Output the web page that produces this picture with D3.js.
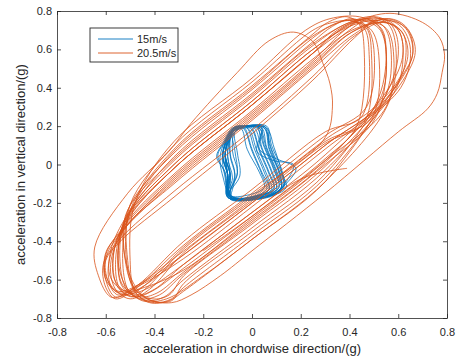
<!DOCTYPE html>
<html>
<head>
<meta charset="utf-8">
<script src="https://cdnjs.cloudflare.com/ajax/libs/d3/7.8.5/d3.min.js"></script>
<style>
  body { margin: 0; background: #fff; }
  text { font-family: "Liberation Sans", Arial, sans-serif; fill: #262626; }
</style>
</head>
<body>
<div id="chart"></div>
<script>
// series
const seriesNames = ["15m/s", "20.5m/s"];
const seriesColors = ["#0072BD", "#D95319"];
const xTicks = [-0.8, -0.6, -0.4, -0.2, 0, 0.2, 0.4, 0.6, 0.8];
const yTicks = [-0.8, -0.6, -0.4, -0.2, 0, 0.2, 0.4, 0.6, 0.8];
const xLabel = "acceleration in chordwise direction/(g)";
const yLabel = "acceleration in vertical direction/(g)";

// 15 m/s trajectory, read loop by loop as [chordwise, vertical]
const loops15 = [
  [[-0.09,-0.17],[-0.07,-0.06],[-0.09,0.05],[-0.08,0.17],[-0.03,0.2],[0.05,0.19],[0.08,0.08],[0.12,-0.04],[0.14,-0.12],[0.07,-0.165]],
  [[-0.1,-0.16],[-0.09,-0.04],[-0.1,0.07],[-0.07,0.18],[-0.03,0.2],[0.0,0.19],[0.03,0.08],[0.07,-0.04],[0.09,-0.12],[0.02,-0.17]],
  [[-0.08,-0.18],[-0.12,-0.06],[-0.13,0.05],[-0.08,0.18],[-0.02,0.2],[0.06,0.2],[0.08,0.1],[0.12,-0.02],[0.13,-0.11],[0.08,-0.16]],
  [[-0.09,-0.17],[-0.1,-0.05],[-0.12,0.04],[-0.09,0.16],[-0.05,0.2],[-0.03,0.18],[0.0,0.07],[0.04,-0.05],[0.06,-0.13],[-0.01,-0.17]],
  [[-0.1,-0.17],[-0.09,-0.05],[-0.11,0.06],[-0.07,0.17],[-0.02,0.2],[0.04,0.19],[0.03,0.08],[0.1,0.03],[0.18,-0.02],[0.14,-0.1],[0.08,-0.16]],
  [[-0.09,-0.16],[-0.06,-0.05],[-0.07,0.07],[-0.08,0.18],[-0.03,0.2],[0.02,0.19],[0.05,0.09],[0.09,-0.03],[0.11,-0.12],[0.04,-0.17]],
  [[-0.09,-0.17],[-0.11,-0.04],[-0.145,0.04],[-0.12,0.11],[-0.08,0.19],[-0.04,0.2],[-0.01,0.18],[0.02,0.07],[0.06,-0.05],[0.08,-0.13],[0.01,-0.17]],
  [[-0.08,-0.17],[-0.09,-0.05],[-0.11,0.06],[-0.07,0.17],[-0.01,0.2],[0.06,0.19],[0.07,0.09],[0.11,-0.03],[0.12,-0.12],[0.06,-0.17]],
  [[-0.1,-0.17],[-0.08,-0.07],[-0.1,0.04],[-0.08,0.17],[-0.03,0.19],[0.03,0.19],[0.06,0.08],[0.1,-0.04],[0.12,-0.13],[0.05,-0.17]],
  [[-0.09,-0.18],[-0.09,-0.05],[-0.11,0.06],[-0.08,0.18],[-0.06,0.2],[-0.04,0.18],[-0.02,0.08],[0.03,-0.04],[0.05,-0.12],[-0.02,-0.16]],
  [[-0.09,-0.16],[-0.1,-0.05],[-0.12,0.05],[-0.08,0.17],[-0.02,0.2],[0.05,0.2],[0.07,0.11],[0.1,0.0],[0.13,-0.11],[0.07,-0.16]],
  [[-0.1,-0.17],[-0.05,-0.06],[-0.06,0.06],[-0.07,0.17],[-0.03,0.2],[0.01,0.19],[0.04,0.08],[0.08,-0.04],[0.1,-0.13],[0.03,-0.17]],
  [[-0.09,-0.17],[-0.1,-0.05],[-0.11,0.06],[-0.08,0.18],[-0.02,0.2],[0.04,0.19],[0.02,0.07],[0.09,0.02],[0.17,0.0],[0.15,-0.07],[0.09,-0.15]],
  [[-0.08,-0.17],[-0.1,-0.05],[-0.11,0.05],[-0.08,0.17],[-0.05,0.2],[-0.02,0.19],[0.01,0.08],[0.05,-0.04],[0.07,-0.13],[0.0,-0.17]],
  [[-0.09,-0.18],[-0.11,-0.07],[-0.12,0.06],[-0.07,0.18],[-0.01,0.2],[0.06,0.19],[0.09,0.09],[0.12,-0.03],[0.13,-0.12],[0.07,-0.17]],
  [[-0.1,-0.17],[-0.1,-0.05],[-0.12,0.06],[-0.08,0.18],[-0.03,0.2],[0.02,0.2],[0.04,0.09],[0.08,-0.03],[0.1,-0.12],[0.03,-0.16]],
  [[-0.09,-0.17],[-0.11,-0.05],[-0.14,0.05],[-0.11,0.12],[-0.08,0.19],[-0.03,0.2],[0.0,0.18],[0.03,0.07],[0.07,-0.05],[0.09,-0.13],[0.02,-0.17]],
  [[-0.09,-0.16],[-0.06,-0.04],[-0.08,0.07],[-0.07,0.17],[-0.02,0.2],[0.05,0.19],[0.07,0.08],[0.11,-0.04],[0.12,-0.12],[0.06,-0.17]],
  [[-0.09,-0.17],[-0.09,-0.05],[-0.11,0.05],[-0.08,0.18],[-0.03,0.2],[0.03,0.19],[0.05,0.1],[0.09,-0.02],[0.11,-0.12],[0.04,-0.16]],
  [[-0.1,-0.17],[-0.1,-0.06],[-0.12,0.05],[-0.09,0.17],[-0.05,0.2],[-0.03,0.19],[0.0,0.08],[0.04,-0.04],[0.07,-0.13],[0.0,-0.17]],
  [[-0.09,-0.17],[-0.07,-0.05],[-0.09,0.06],[-0.08,0.18],[-0.02,0.2],[0.04,0.19],[0.06,0.09],[0.1,-0.03],[0.12,-0.12],[0.05,-0.17]],
  [[-0.09,-0.17],[-0.1,-0.05],[-0.11,0.05]]
];

// 20.5 m/s trajectory
const loops205 = [
  [[0.39,-0.02],[0.21,-0.07],[0.00,-0.25],[-0.28,-0.52],[-0.42,-0.64],[-0.50,-0.67],[-0.56,-0.61],[-0.57,-0.48],[-0.52,-0.30],[-0.32,-0.02],[0.00,0.31],[0.25,0.58],[0.37,0.71],[0.44,0.75],[0.52,0.71],[0.55,0.59],[0.52,0.33]],
  [[0.30,0.13],[0.00,-0.17],[-0.28,-0.44],[-0.43,-0.64],[-0.49,-0.69],[-0.55,-0.64],[-0.57,-0.51],[-0.54,-0.36],[-0.32,-0.10],[0.00,0.23],[0.25,0.50],[0.42,0.68],[0.55,0.76],[0.63,0.71],[0.66,0.59],[0.62,0.46]],
  [[0.30,-0.01],[0.00,-0.31],[-0.28,-0.58],[-0.34,-0.68],[-0.41,-0.70],[-0.48,-0.65],[-0.52,-0.50],[-0.51,-0.24],[-0.32,0.06],[0.00,0.39],[0.25,0.66],[0.32,0.72],[0.40,0.75],[0.46,0.71],[0.48,0.59],[0.45,0.25]],
  [[0.30,0.17],[0.00,-0.13],[-0.28,-0.40],[-0.47,-0.63],[-0.56,-0.69],[-0.60,-0.60],[-0.60,-0.50],[-0.54,-0.40],[-0.32,-0.17],[0.00,0.16],[0.25,0.44],[0.42,0.66],[0.52,0.76],[0.59,0.72],[0.62,0.61],[0.59,0.46]],
  [[0.30,0.01],[0.00,-0.29],[-0.28,-0.56],[-0.39,-0.67],[-0.46,-0.69],[-0.53,-0.64],[-0.55,-0.50],[-0.52,-0.28],[-0.32,0.02],[0.00,0.35],[0.25,0.62],[0.40,0.74],[0.53,0.76],[0.61,0.72],[0.65,0.60],[0.61,0.40]],
  [[0.30,0.08],[0.00,-0.22],[-0.28,-0.49],[-0.46,-0.63],[-0.54,-0.67],[-0.60,-0.60],[-0.60,-0.47],[-0.53,-0.33],[-0.32,-0.06],[0.00,0.27],[0.25,0.54],[0.38,0.70],[0.46,0.76],[0.53,0.71],[0.55,0.60],[0.52,0.35]],
  [[0.30,-0.05],[0.00,-0.35],[-0.28,-0.62],[-0.33,-0.71],[-0.41,-0.71],[-0.48,-0.65],[-0.51,-0.50],[-0.50,-0.21],[-0.32,0.10],[0.00,0.43],[0.25,0.70],[0.33,0.74],[0.41,0.75],[0.47,0.71],[0.49,0.58],[0.46,0.22]],
  [[0.30,0.11],[0.00,-0.19],[-0.28,-0.46],[-0.42,-0.65],[-0.50,-0.70],[-0.56,-0.65],[-0.58,-0.52],[-0.53,-0.35],[-0.32,-0.08],[0.00,0.25],[0.25,0.52],[0.41,0.69],[0.55,0.74],[0.62,0.68],[0.63,0.55],[0.60,0.43]],
  [[0.30,0.02],[0.00,-0.28],[-0.28,-0.55],[-0.44,-0.64],[-0.52,-0.66],[-0.58,-0.59],[-0.58,-0.45],[-0.51,-0.26],[-0.32,0.04],[0.00,0.37],[0.25,0.64],[0.33,0.72],[0.41,0.76],[0.47,0.72],[0.50,0.60],[0.47,0.30]],
  [[0.30,0.15],[0.00,-0.15],[-0.28,-0.42],[-0.48,-0.65],[-0.56,-0.70],[-0.60,-0.64],[-0.61,-0.52],[-0.55,-0.40],[-0.32,-0.14],[0.00,0.18],[0.25,0.46],[0.42,0.67],[0.56,0.75],[0.64,0.70],[0.66,0.58],[0.62,0.47]],
  [[0.30,-0.07],[0.00,-0.37],[-0.28,-0.64],[-0.33,-0.70],[-0.40,-0.72],[-0.47,-0.68],[-0.51,-0.55],[-0.50,-0.24],[-0.32,0.08],[0.00,0.41],[0.25,0.68],[0.31,0.74],[0.39,0.77],[0.44,0.73],[0.46,0.60],[0.43,0.20]],
  [[0.30,0.03],[0.00,-0.27],[-0.28,-0.54],[-0.41,-0.66],[-0.48,-0.69],[-0.54,-0.65],[-0.56,-0.52],[-0.52,-0.29],[-0.32,0.00],[0.00,0.33],[0.25,0.60],[0.40,0.72],[0.52,0.75],[0.60,0.70],[0.62,0.57],[0.58,0.37]],
  [[0.30,0.10],[0.00,-0.20],[-0.28,-0.47],[-0.47,-0.63],[-0.55,-0.66],[-0.60,-0.58],[-0.60,-0.46],[-0.53,-0.34],[-0.32,-0.07],[0.00,0.26],[0.25,0.53],[0.40,0.70],[0.50,0.77],[0.57,0.73],[0.60,0.62],[0.57,0.42]],
  [[0.30,-0.09],[0.00,-0.39],[-0.28,-0.66],[-0.34,-0.71],[-0.42,-0.72],[-0.48,-0.66],[-0.50,-0.50],[-0.48,-0.20],[-0.32,0.12],[0.00,0.45],[0.22,0.70],[0.32,0.76],[0.44,0.77],[0.52,0.72],[0.55,0.60],[0.51,0.25]],
  [[0.30,0.00],[0.00,-0.30],[-0.28,-0.57],[-0.38,-0.68],[-0.45,-0.70],[-0.51,-0.66],[-0.54,-0.53],[-0.52,-0.30],[-0.32,-0.02],[0.00,0.31],[0.25,0.58],[0.39,0.71],[0.47,0.76],[0.54,0.72],[0.57,0.60],[0.54,0.34]],
  [[0.30,0.10],[0.00,-0.20],[-0.28,-0.47],[-0.44,-0.63],[-0.52,-0.68],[-0.58,-0.69],[-0.63,-0.58],[-0.645,-0.43],[-0.51,-0.15],[-0.34,0.07],[-0.25,0.215],[-0.06,0.48],[0.07,0.645],[0.17,0.69],[0.25,0.64],[0.29,0.53],[0.32,0.42],[0.33,0.30]],
  [[0.30,0.14],[0.00,-0.16],[-0.28,-0.43],[-0.44,-0.63],[-0.51,-0.68],[-0.57,-0.65],[-0.59,-0.54],[-0.53,-0.33],[-0.32,-0.05],[0.00,0.28],[0.25,0.55],[0.41,0.70],[0.54,0.74],[0.61,0.70],[0.64,0.58],[0.60,0.44]],
  [[0.30,0.05],[0.00,-0.25],[-0.28,-0.52],[-0.40,-0.65],[-0.47,-0.68],[-0.53,-0.63],[-0.55,-0.50],[-0.52,-0.29],[-0.32,0.00],[0.00,0.33],[0.25,0.60],[0.42,0.74],[0.566,0.788],[0.70,0.74],[0.77,0.66],[0.79,0.57],[0.78,0.48],[0.76,0.37],[0.72,0.29],[0.60,0.17]],
  [[0.30,-0.15],[0.00,-0.45],[-0.13,-0.58],[-0.25,-0.68],[-0.33,-0.72],[-0.43,-0.70],[-0.50,-0.58],[-0.52,-0.27],[-0.32,0.03],[0.00,0.36],[0.25,0.63],[0.40,0.74],[0.49,0.77],[0.56,0.73],[0.59,0.61],[0.56,0.32]],
  [[0.30,-0.09],[0.00,-0.39],[-0.20,-0.58],[-0.35,-0.70],[-0.45,-0.71],[-0.52,-0.63],[-0.55,-0.47],[-0.51,-0.29],[-0.32,-0.02],[0.00,0.31],[0.25,0.58],[0.35,0.70],[0.43,0.74],[0.49,0.70],[0.52,0.57],[0.49,0.24]],
  [[0.30,0.12],[0.00,-0.18],[-0.28,-0.45],[-0.47,-0.63],[-0.55,-0.68],[-0.59,-0.61],[-0.60,-0.49],[-0.54,-0.36],[-0.32,-0.09],[0.00,0.24],[0.25,0.51],[0.41,0.69],[0.56,0.76],[0.63,0.72],[0.67,0.60],[0.63,0.46]],
  [[0.30,-0.03],[0.00,-0.33],[-0.28,-0.60],[-0.36,-0.69],[-0.43,-0.71],[-0.50,-0.67],[-0.53,-0.52],[-0.50,-0.25],[-0.32,0.07],[0.00,0.40],[0.25,0.67],[0.38,0.75],[0.47,0.75],[0.55,0.71],[0.58,0.59],[0.55,0.30]],
  [[0.30,0.02],[0.00,-0.27],[-0.20,-0.45]]
];

const width = 457, height = 361;
const margin = { left: 57, right: 10, top: 11, bottom: 43 };

const svg = d3.select("#chart").append("svg")
  .attr("width", width).attr("height", height);

const x = d3.scaleLinear().domain([-0.8, 0.8]).range([margin.left, width - margin.right]);
const y = d3.scaleLinear().domain([-0.8, 0.8]).range([height - margin.bottom, margin.top]);

svg.append("clipPath").attr("id", "plotArea")
  .append("rect")
  .attr("x", x(-0.8)).attr("y", y(0.8))
  .attr("width", x(0.8) - x(-0.8)).attr("height", y(-0.8) - y(0.8));

const line = d3.line()
  .x(d => x(d[0]))
  .y(d => y(d[1]))
  .curve(d3.curveCatmullRom.alpha(0.5));

const traces = [loops15.flat(), loops205.flat()];
const plot = svg.append("g").attr("clip-path", "url(#plotArea)");
plot.selectAll("path.trace")
  .data(traces)
  .join("path")
  .attr("class", "trace")
  .attr("d", line)
  .attr("fill", "none")
  .attr("stroke", (d, i) => seriesColors[i])
  .attr("stroke-width", 0.8)
  .attr("stroke-linejoin", "round");

// axes, ticks pointing inward on all four sides
const axisColor = "#262626";
const tickLen = 4;
function styleAxis(g) {
  g.selectAll("path.domain").attr("stroke", axisColor).attr("stroke-width", 0.8);
  g.selectAll(".tick line").attr("stroke", axisColor).attr("stroke-width", 0.8);
  g.selectAll(".tick text").attr("fill", axisColor).style("font-size", "11px")
    .style("font-family", '"Liberation Sans", Arial, sans-serif');
}

svg.append("g")
  .attr("transform", `translate(0,${y(-0.8)})`)
  .call(d3.axisBottom(x).tickValues(xTicks).tickFormat(d3.format("")).tickSize(-tickLen).tickSizeOuter(0).tickPadding(10))
  .call(styleAxis);
svg.append("g")
  .attr("transform", `translate(0,${y(0.8)})`)
  .call(d3.axisTop(x).tickValues(xTicks).tickFormat("").tickSize(-tickLen).tickSizeOuter(0))
  .call(styleAxis);
svg.append("g")
  .attr("transform", `translate(${x(-0.8)},0)`)
  .call(d3.axisLeft(y).tickValues(yTicks).tickFormat(d3.format("")).tickSize(-tickLen).tickSizeOuter(0).tickPadding(5))
  .call(styleAxis);
svg.append("g")
  .attr("transform", `translate(${x(0.8)},0)`)
  .call(d3.axisRight(y).tickValues(yTicks).tickFormat("").tickSize(-tickLen).tickSizeOuter(0))
  .call(styleAxis);

svg.selectAll(".tick text").text(function () {
  return d3.select(this).text().replace("−", "-");
});

svg.append("text")
  .attr("x", (x(-0.8) + x(0.8)) / 2)
  .attr("y", 353)
  .attr("text-anchor", "middle")
  .style("font-size", "13px")
  .text(xLabel);

svg.append("text")
  .attr("transform", `translate(25,${(y(-0.8) + y(0.8)) / 2}) rotate(-90)`)
  .attr("text-anchor", "middle")
  .style("font-size", "13px")
  .text(yLabel);

// legend
const legend = svg.append("g").attr("transform", "translate(90,28)");
legend.append("rect")
  .attr("width", 88).attr("height", 34)
  .attr("fill", "#fff").attr("stroke", axisColor).attr("stroke-width", 0.9);
const rows = legend.selectAll("g.row").data(seriesNames).join("g")
  .attr("class", "row")
  .attr("transform", (d, i) => `translate(0,${11 + i * 14})`);
rows.append("line")
  .attr("x1", 8).attr("x2", 43)
  .attr("stroke", (d, i) => seriesColors[i]).attr("stroke-width", 0.9);
rows.append("text")
  .attr("x", 47).attr("dy", "0.35em")
  .style("font-size", "11px")
  .text(d => d);
</script>
</body>
</html>
